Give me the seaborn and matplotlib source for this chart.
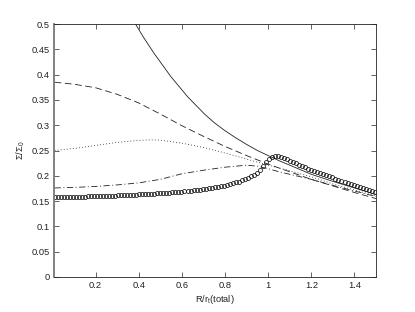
import numpy as np
import pandas as pd
import matplotlib
matplotlib.use("Agg")
import matplotlib.pyplot as plt
import seaborn as sns
from matplotlib.ticker import FixedLocator, FuncFormatter

# ---- data ----
r_solid = [0.36, 0.385, 0.42, 0.471, 0.549, 0.627, 0.705, 0.75, 0.80, 0.85, 0.90, 0.95,
           1.00, 1.05, 1.10, 1.20, 1.30, 1.40, 1.50]
s_solid = [0.518, 0.500, 0.475, 0.442, 0.396, 0.356, 0.322, 0.305, 0.289, 0.275, 0.262, 0.250,
           0.240, 0.230, 0.221, 0.203, 0.189, 0.176, 0.163]

r_dash = [0.01, 0.10, 0.20, 0.30, 0.40, 0.50, 0.60, 0.70, 0.80, 0.90, 1.00, 1.10, 1.20, 1.30, 1.40, 1.50]
s_dash = [0.385, 0.381, 0.374, 0.361, 0.344, 0.322, 0.299, 0.278, 0.258, 0.240, 0.223, 0.208, 0.193,
          0.180, 0.167, 0.155]

r_dot = [0.01, 0.10, 0.20, 0.30, 0.40, 0.45, 0.50, 0.60, 0.70, 0.80, 0.90, 1.00, 1.10, 1.20, 1.30, 1.40, 1.50]
s_dot = [0.250, 0.254, 0.260, 0.266, 0.270, 0.271, 0.2705, 0.2645, 0.256, 0.245, 0.233, 0.221, 0.210,
         0.198, 0.184, 0.172, 0.160]

r_dashdot = [0.01, 0.10, 0.20, 0.30, 0.40, 0.50, 0.60, 0.70, 0.80, 0.90, 0.95, 1.00, 1.05, 1.10,
             1.20, 1.30, 1.40, 1.50]
s_dashdot = [0.176, 0.177, 0.179, 0.182, 0.186, 0.193, 0.204, 0.211, 0.217, 0.221, 0.219, 0.214,
             0.208, 0.203, 0.193, 0.181, 0.170, 0.159]

r_circ = [0.010, 0.024, 0.038, 0.052, 0.066, 0.080, 0.094, 0.108, 0.122, 0.136,
          0.150, 0.164, 0.178, 0.192, 0.206, 0.220, 0.234, 0.248, 0.262, 0.276,
          0.290, 0.304, 0.318, 0.332, 0.346, 0.360, 0.374, 0.388, 0.402, 0.416,
          0.430, 0.444, 0.458, 0.472, 0.486, 0.500, 0.514, 0.528, 0.542, 0.556,
          0.570, 0.584, 0.598, 0.612, 0.626, 0.640, 0.654, 0.668, 0.682, 0.696,
          0.710, 0.724, 0.738, 0.752, 0.766, 0.780, 0.794, 0.808, 0.822, 0.836,
          0.850, 0.864, 0.878, 0.892, 0.906, 0.920, 0.934, 0.948, 0.962, 0.976,
          0.990, 1.004, 1.018, 1.032, 1.046, 1.060, 1.074, 1.088, 1.102, 1.116,
          1.130, 1.144, 1.158, 1.172, 1.186, 1.200, 1.214, 1.228, 1.242, 1.256,
          1.270, 1.284, 1.298, 1.312, 1.326, 1.340, 1.354, 1.368, 1.382, 1.396,
          1.410, 1.424, 1.438, 1.452, 1.466, 1.480, 1.494]
s_circ = [0.1580, 0.1580, 0.1581, 0.1582, 0.1583, 0.1584, 0.1585, 0.1586, 0.1587, 0.1589,
          0.1590, 0.1592, 0.1593, 0.1595, 0.1597, 0.1599, 0.1601, 0.1603, 0.1605, 0.1607,
          0.1609, 0.1611, 0.1614, 0.1617, 0.1620, 0.1623, 0.1626, 0.1629, 0.1632, 0.1635,
          0.1638, 0.1641, 0.1645, 0.1648, 0.1652, 0.1656, 0.1660, 0.1664, 0.1668, 0.1673,
          0.1678, 0.1683, 0.1688, 0.1693, 0.1699, 0.1705, 0.1711, 0.1718, 0.1725, 0.1733,
          0.1741, 0.1750, 0.1760, 0.1770, 0.1781, 0.1793, 0.1806, 0.1820, 0.1835, 0.1851,
          0.1868, 0.1887, 0.1908, 0.1932, 0.1958, 0.1988, 0.2023, 0.2065, 0.2118, 0.2185,
          0.2265, 0.2335, 0.2380, 0.2398, 0.2392, 0.2375, 0.2352, 0.2327, 0.2300, 0.2272,
          0.2244, 0.2217, 0.2191, 0.2166, 0.2142, 0.2119, 0.2096, 0.2074, 0.2052, 0.2030,
          0.2009, 0.1988, 0.1967, 0.1946, 0.1925, 0.1904, 0.1884, 0.1864, 0.1844, 0.1824,
          0.1804, 0.1784, 0.1764, 0.1744, 0.1724, 0.1704, 0.1685]

x_ticks = [0.2, 0.4, 0.6, 0.8, 1.0, 1.2, 1.4]
y_ticks = [0, 0.05, 0.1, 0.15, 0.2, 0.25, 0.3, 0.35, 0.4, 0.45, 0.5]

# ---- style ----
sns.set_theme(style="white")
plt.rcParams['font.family'] = ['Liberation Sans', 'DejaVu Sans']
plt.rcParams['mathtext.fontset'] = 'custom'
plt.rcParams['mathtext.rm'] = 'Liberation Sans'
plt.rcParams['mathtext.it'] = 'Liberation Sans'
plt.rcParams['lines.scale_dashes'] = False

fig = plt.figure(figsize=(4.15, 3.12), dpi=100)
ax = fig.add_axes([54 / 415, 1 - 277 / 312, (376 - 54) / 415, (277 - 24) / 312])

lw = 0.6
sns.lineplot(x=r_solid, y=s_solid, ax=ax, color='#222222', linewidth=lw, sort=False,
             estimator=None, linestyle='-')
sns.lineplot(x=r_dash, y=s_dash, ax=ax, color='#222222', linewidth=lw, sort=False,
             estimator=None, linestyle=(0, (4.8, 2.6)))
sns.lineplot(x=r_dot, y=s_dot, ax=ax, color='#222222', linewidth=lw, sort=False,
             estimator=None, linestyle=(0, (0.6, 1.6)))
sns.lineplot(x=r_dashdot, y=s_dashdot, ax=ax, color='#222222', linewidth=lw, sort=False,
             estimator=None, linestyle=(0, (4.5, 1.8, 0.7, 1.8)))
sns.lineplot(x=r_circ, y=s_circ, ax=ax, sort=False, estimator=None, linestyle='',
             marker='o', markersize=2.9, markerfacecolor='none', markeredgecolor='#111111',
             markeredgewidth=0.55, color='#111111')

ax.set_xlim(0.007, 1.5)
ax.set_ylim(0, 0.5)
ax.xaxis.set_major_locator(FixedLocator(x_ticks))
ax.yaxis.set_major_locator(FixedLocator(y_ticks))
fmt = FuncFormatter(lambda v, p: ('%g' % round(v, 3)))
ax.xaxis.set_major_formatter(fmt)
ax.yaxis.set_major_formatter(fmt)
ax.tick_params(direction='in', length=3.5, width=0.5, top=True, right=True,
               labelsize=6.7, colors='#222222', pad=3)
ax.tick_params(axis='both', which='both', bottom=True, left=True)
for name, sp in ax.spines.items():
    sp.set_visible(True)
    sp.set_color('#222222')
    sp.set_linewidth(0.6)
ax.spines['left'].set_linewidth(1.3)
ax.spines['left'].set_color('#777777')

ax.set_xlabel(r'R/r$_\mathrm{t}$(total)', fontsize=6.7, labelpad=2, color='#222222')
ax.set_ylabel(r'$\Sigma/\Sigma_0$', fontsize=6.7, labelpad=3, color='#222222')
ax.grid(False)

fig.savefig('out.png', dpi=100)
